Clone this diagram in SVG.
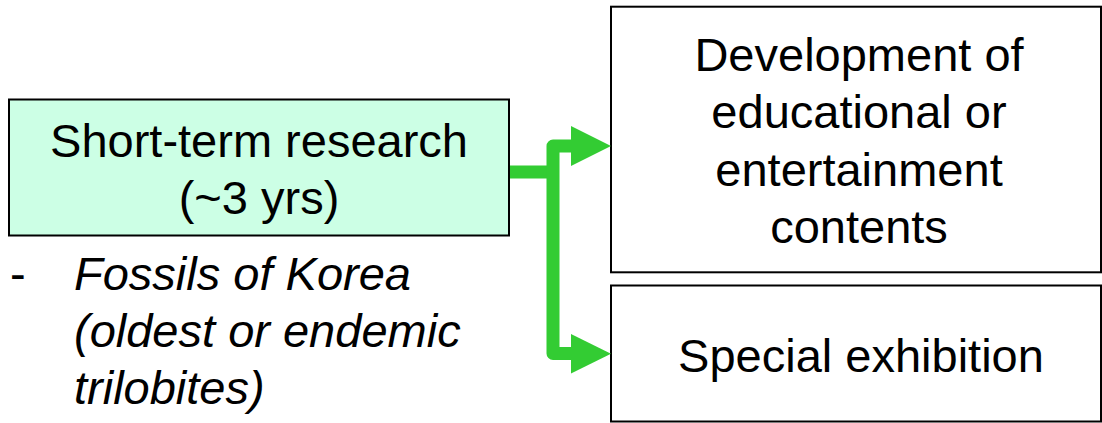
<svg xmlns="http://www.w3.org/2000/svg" width="1102" height="423" viewBox="0 0 1102 423">
  <style>
    .box { stroke: #000; stroke-width: 2; }
    .t { font-family: "Liberation Sans", Arial, sans-serif; font-size: 47px; fill: #000; }
    .c { text-anchor: middle; }
    .i { font-style: italic; }
    .conn { fill: none; stroke: #33CC33; stroke-width: 13; stroke-linejoin: round; }
    .head { fill: #33CC33; }
  </style>
  <rect width="1102" height="423" fill="#fff"/>
  <g id="short-term">
    <rect class="box" x="9" y="99.5" width="500" height="136" fill="#CCFFE5"/>
    <text class="t c" x="259" y="157">Short-term research</text>
    <text class="t c" x="259" y="213.5">(~3 yrs)</text>
  </g>
  <g id="note">
    <text class="t" x="10" y="290">-</text>
    <text class="t i" x="74" y="290">Fossils of Korea</text>
    <text class="t i" x="74" y="347">(oldest or endemic</text>
    <text class="t i" x="74" y="403.5">trilobites)</text>
  </g>
  <g id="development">
    <rect class="box" x="611" y="6.7" width="490" height="265.6" fill="#fff"/>
    <text class="t c" x="859" y="70.7">Development of</text>
    <text class="t c" x="859" y="128.3">educational or</text>
    <text class="t c" x="859" y="185.5">entertainment</text>
    <text class="t c" x="859" y="243.3">contents</text>
  </g>
  <g id="exhibition">
    <rect class="box" x="611" y="285.5" width="490" height="136" fill="#fff"/>
    <text class="t c" x="861" y="371.7">Special exhibition</text>
  </g>
  <g id="connectors">
    <path class="conn" d="M510,172 H553"/>
    <path class="conn" d="M573,146 H553 V353.5 H573"/>
    <polygon class="head" points="571,126 611,146 571,166"/>
    <polygon class="head" points="571,334 611,353.7 571,373.4"/>
  </g>
</svg>
